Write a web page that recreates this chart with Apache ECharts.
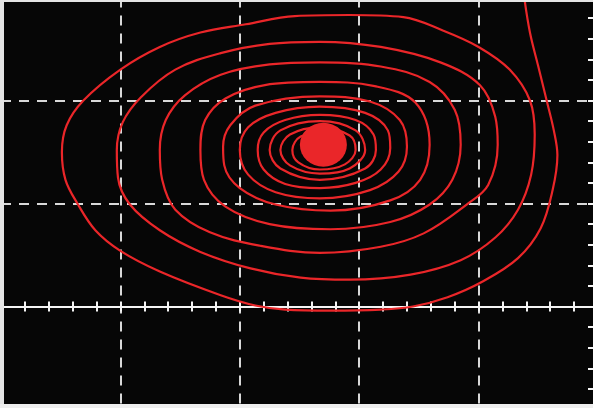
<!DOCTYPE html>
<html>
<head>
<meta charset="utf-8">
<script src="https://cdn.jsdelivr.net/npm/echarts@6/dist/echarts.min.js"></script>
<style>
  html, body { margin: 0; padding: 0; background: #e6e6e6; }
  #chart { width: 593px; height: 408px; }
</style>
</head>
<body>
<div id="chart"></div>
<script>
// XY-mode trace (channel 1 on X, channel 2 on Y), in screen divisions.
// The trace enters at the upper right and winds clockwise inwards.
const traceX = [
  -0.62, -0.57, -0.50, -0.43, -0.37, -0.34, -0.38, -0.48, -0.67, -0.97, -1.26, -1.55,
  -1.82, -2.24, -2.62, -2.87, -3.16, -3.67, -4.00, -4.21, -4.36, -4.46, -4.49, -4.45,
  -4.31, -4.00, -3.67, -3.33, -2.95, -2.54, -2.08, -1.63, -1.30, -1.00, -0.74, -0.57,
  -0.53, -0.56, -0.67, -0.86, -1.15, -1.57, -2.08, -2.49, -2.91, -3.33, -3.67, -3.92,
  -4.02, -4.03, -3.98, -3.83, -3.54, -3.16, -2.75, -2.33, -1.82, -1.32, -0.99, -0.86,
  -0.84, -0.92, -1.10, -1.46, -1.82, -2.33, -2.83, -3.25, -3.54, -3.65, -3.67, -3.62,
  -3.46, -3.16, -2.75, -2.33, -1.82, -1.41, -1.20, -1.15, -1.22, -1.41, -1.74, -2.24,
  -2.75, -3.12, -3.30, -3.33, -3.29, -3.12, -2.79, -2.33, -1.87, -1.53, -1.41, -1.49,
  -1.74, -2.24, -2.70, -3.00, -3.13, -3.14, -3.08, -2.87, -2.33, -1.91, -1.66, -1.60,
  -1.67, -1.91, -2.33, -2.70, -2.93, -3.00, -2.93, -2.70, -2.33, -1.95, -1.76, -1.74,
  -1.82, -2.03, -2.33, -2.62, -2.80, -2.85, -2.80, -2.62, -2.33, -2.03, -1.88, -1.86,
  -1.95, -2.33, -2.66, -2.75, -2.66, -2.33, -2.03, -1.95, -2.08, -2.33, -2.58, -2.66,
  -2.58, -2.33, -2.08, -2.03, -2.12, -2.33, -2.51, -2.56, -2.49, -2.31, -2.16, -2.14,
  -2.31
];
const traceY = [
   3.02,  2.66,  2.33,  2.00,  1.71,  1.47,  1.13,  0.76,  0.47,  0.24,  0.09,  0.00,
  -0.03, -0.04, -0.03,  0.01,  0.11,  0.34,  0.54,  0.74,  1.00,  1.23,  1.50,  1.76,
   2.00,  2.30,  2.52,  2.66,  2.74,  2.82,  2.83,  2.81,  2.68,  2.52,  2.30,  2.00,
   1.67,  1.28,  0.94,  0.67,  0.45,  0.31,  0.26,  0.28,  0.37,  0.53,  0.74,  0.99,
   1.25,  1.52,  1.79,  2.03,  2.30,  2.46,  2.55,  2.57,  2.52,  2.37,  2.15,  1.84,
   1.57,  1.18,  0.99,  0.71,  0.58,  0.52,  0.59,  0.72,  0.94,  1.23,  1.52,  1.81,
   2.05,  2.25,  2.35,  2.37,  2.33,  2.18,  1.91,  1.57,  1.23,  0.99,  0.82,  0.75,
   0.80,  0.97,  1.23,  1.52,  1.81,  2.02,  2.15,  2.18,  2.14,  1.98,  1.57,  1.23,
   1.03,  0.93,  0.99,  1.15,  1.37,  1.55,  1.76,  1.95,  2.04,  1.99,  1.81,  1.55,
   1.31,  1.13,  1.05,  1.11,  1.28,  1.52,  1.74,  1.88,  1.94,  1.88,  1.71,  1.54,
   1.33,  1.20,  1.15,  1.19,  1.33,  1.52,  1.69,  1.81,  1.86,  1.81,  1.67,  1.52,
   1.34,  1.23,  1.34,  1.52,  1.71,  1.80,  1.71,  1.52,  1.34,  1.29,  1.37,  1.52,
   1.67,  1.74,  1.66,  1.52,  1.38,  1.33,  1.40,  1.52,  1.65,  1.68,  1.62,  1.52,
   1.54
];
// Point where the trace settles.
const restPoint = [-2.30, 1.57];

const RED = '#ea2629';
const WHITE = '#f4f4f4';
const GRATICULE = '#d8d8d8';
const chart = echarts.init(document.getElementById('chart'), null, { renderer: 'canvas' });

const hiddenLabel = { show: false };
// Horizontal centre line with 0.2-division ticks; two copies give ticks on both sides.
const subTicks = (inside) => ({
  type: 'value', min: -5, max: 0, interval: 0.2, position: 'bottom',
  axisLine: { show: true, onZero: true, lineStyle: { color: WHITE, width: 2 } },
  axisTick: { show: true, inside: inside, length: 5, lineStyle: { color: WHITE, width: 2 } },
  axisLabel: hiddenLabel, splitLine: { show: false }
});

chart.setOption({
  animation: false,
  backgroundColor: 'transparent',
  grid: {
    left: 1, right: -5, top: -2.5, bottom: -1.5,
    show: true, backgroundColor: '#060606', borderWidth: 0,
    outerBoundsMode: 'none', containLabel: false
  },
  xAxis: [
    { // dashed major divisions
      type: 'value', min: -5, max: 0, interval: 1,
      axisLine: { show: false, onZero: false }, axisTick: { show: false }, axisLabel: hiddenLabel,
      splitLine: { show: true, lineStyle: { color: GRATICULE, width: 2, type: [10, 8] } }
    },
    subTicks(false),
    subTicks(true)
  ],
  yAxis: [
    {
      type: 'value', min: -1, max: 3, interval: 1,
      axisLine: { show: false, onZero: false }, axisTick: { show: false }, axisLabel: hiddenLabel,
      splitLine: { show: true, lineStyle: { color: GRATICULE, width: 2, type: [10, 8] } }
    },
    {
      type: 'value', min: -1, max: 3, interval: 0.2, position: 'right',
      axisLine: { show: true, onZero: false, lineStyle: { color: WHITE, width: 2 } },
      axisTick: { show: true, inside: true, length: 10, lineStyle: { color: WHITE, width: 2 } },
      axisLabel: hiddenLabel, splitLine: { show: false }
    }
  ],
  series: [
    {
      type: 'line',
      xAxisIndex: 0, yAxisIndex: 0,
      data: traceX.map((x, i) => [x, traceY[i]]),
      smooth: 0.36,
      showSymbol: false,
      lineStyle: { color: RED, width: 2.2 },
      z: 5
    },
    {
      type: 'scatter',
      xAxisIndex: 0, yAxisIndex: 0,
      data: [restPoint],
      symbol: 'circle',
      symbolSize: [47, 44],
      itemStyle: { color: RED, opacity: 1 },
      z: 6
    }
  ],
  graphic: [
    { type: 'rect', shape: { x: 0, y: 0, width: 4, height: 408 }, style: { fill: '#e4e4e4' }, z: 100 },
    { type: 'rect', shape: { x: 0, y: 0, width: 593, height: 2 }, style: { fill: '#e4e4e4' }, z: 100 },
    { type: 'rect', shape: { x: 0, y: 404, width: 593, height: 4 }, style: { fill: '#eeeeee' }, z: 100 }
  ]
});
</script>
</body>
</html>
